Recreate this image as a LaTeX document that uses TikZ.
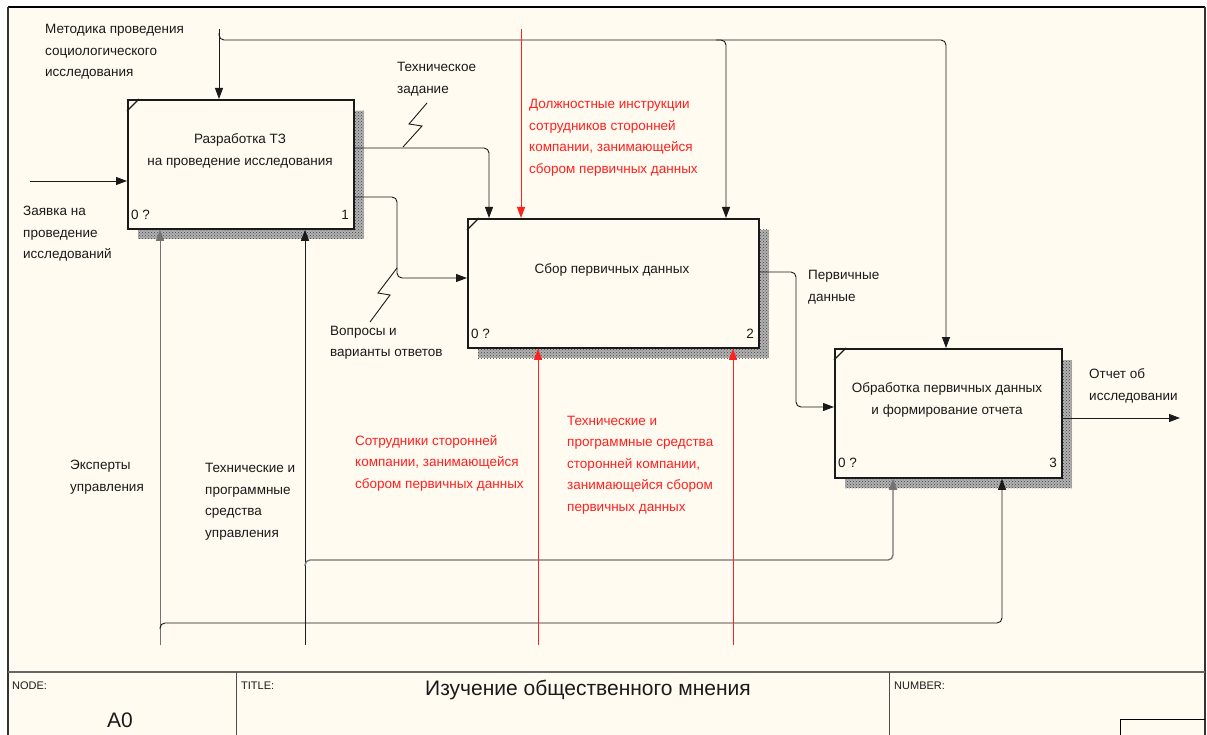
\documentclass[tikz,border=0pt]{standalone}
\usepackage{fontspec}
\setmainfont{Liberation Sans}
\usetikzlibrary{arrows.meta,patterns,calc}
\definecolor{bg}{HTML}{FFFBF0}
\definecolor{ired}{HTML}{FF2020}
\definecolor{ink}{HTML}{1A1A1A}
\begin{document}
\begin{tikzpicture}[x=1pt,y=-1pt,
  fbox/.style={draw=ink,line width=1.8pt,fill=bg,anchor=north west,inner sep=0pt},
  shadowfill/.style={fill=black!30,postaction={pattern=crosshatch dots,pattern color=black!75}},
  conn/.style={draw=ink,line width=0.9pt,rounded corners=5pt},
  arr/.style={conn,-{Triangle[length=11pt,width=8pt]}},
  rconn/.style={draw=ired,line width=0.9pt,-{Triangle[length=11pt,width=8pt]}},
  lbl/.style={font=\fontsize{13.5}{21.5}\selectfont,text=ink,inner sep=0pt,align=left,anchor=west},
  rlbl/.style={lbl,text=ired},
  clbl/.style={font=\fontsize{13.5}{21.5}\selectfont,text=ink,inner sep=0pt,align=center},
  num/.style={font=\fontsize{13.5}{16}\selectfont,text=ink,inner sep=0pt},
  small/.style={font=\fontsize{11}{13}\selectfont,text=ink,inner sep=0pt,anchor=west}
]
\useasboundingbox (0,0) rectangle (1207,735);
\fill[white] (0,0) rectangle (1207,735);
\fill[bg] (8,7) rectangle (1205,735);

% shadows
\path[shadowfill] (138,111) rectangle (364,239);
\path[shadowfill] (478,230) rectangle (769,358);
\path[shadowfill] (845,360) rectangle (1072,488);

% boxes
\node[fbox,minimum width=226pt,minimum height=129pt] (b1) at (127,99) {};
\node[fbox,minimum width=291pt,minimum height=129pt] (b2) at (467,218) {};
\node[fbox,minimum width=227pt,minimum height=129pt] (b3) at (834,348) {};
\draw[ink,line width=1.2pt] (b1.north west) ++(0,12) -- ++(12,-12);
\draw[ink,line width=1.2pt] (b2.north west) ++(0,12) -- ++(12,-12);
\draw[ink,line width=1.2pt] (b3.north west) ++(0,12) -- ++(12,-12);

% box texts
\node[clbl] (t1) at (240,151) {Разработка ТЗ\\на проведение исследования};
\node[clbl] (t2) at (612,270) {Сбор первичных данных};
\node[clbl] (t3) at (947,400) {Обработка первичных данных\\и формирование отчета};
\node[num,anchor=west] (n1a) at (131,215) {0 ?};
\node[num,anchor=east] (n1b) at (349,215) {1};
\node[num,anchor=west] (n2a) at (471,334) {0 ?};
\node[num,anchor=east] (n2b) at (754,334) {2};
\node[num,anchor=west] (n3a) at (838,463) {0 ?};
\node[num,anchor=east] (n3b) at (1057,463) {3};

% coordinates
\coordinate (inA) at (30,181);
\coordinate (ctop) at (219,29);
\coordinate (k1) at (219,40);
\coordinate (k2) at (726,40);
\coordinate (k3) at (946,40);
\coordinate (rtop) at (521,29);
\coordinate (d1) at (489,148);
\coordinate (e1) at (397,197);
\coordinate (e2) at (397,278);
\coordinate (f1) at (796,272);
\coordinate (f2) at (796,407);
\coordinate (gout) at (1180,418);
\coordinate (h0) at (160,645);
\coordinate (h1) at (160,623);
\coordinate (h2) at (1002,623);
\coordinate (i0) at (305,645);
\coordinate (i1) at (305,560);
\coordinate (i2) at (893,560);
\coordinate (r1) at (538,645);
\coordinate (r2) at (733,645);

% connectors
\draw[arr] (inA) -- (inA -| b1.west);
\draw[arr] (ctop) -- (ctop |- b1.north);
\draw[arr] ($(ctop)+(0,4)$) -- (k1) -- (k3) -- (k3 |- b3.north);
\draw[arr] ($(k2)+(-10,0)$) -- (k2) -- (k2 |- b2.north);
\draw[rconn] (rtop) -- (rtop |- b2.north);
\draw[arr] (b1.east |- d1) -- (d1) -- (d1 |- b2.north);
\draw[arr] (b1.east |- e1) -- (e1) -- (e2) -- (e2 -| b2.west);
\draw[arr] (b2.east |- f1) -- (f1) -- (f2) -- (f2 -| b3.west);
\draw[arr] (b3.east |- gout) -- (gout);
\draw[arr,draw=black!55] (h0) -- (h0 |- b1.south);
\draw[arr] ($(h1)+(0,6)$) -- (h1) -- (h2) -- (h2 |- b3.south);
\draw[arr] (i0) -- (i0 |- b1.south);
\draw[arr,draw=black!55,line width=1.3pt] ($(i1)+(0,6)$) -- (i1) -- (i2) -- (i2 |- b3.south);
\draw[rconn] (r1) -- (r1 |- b2.south);
\draw[rconn] (r2) -- (r2 |- b2.south);

% squiggles
\draw[ink,line width=0.9pt] (403,147) -- (422,126) -- (409,124) -- (427,103);
\draw[ink,line width=0.9pt] (397,268) -- (378,293) -- (390,295) -- (370,322);

% labels
\node[lbl] (l1) at (45,52) {Методика проведения\\социологического\\исследования};
\node[lbl] (l2) at (397,79) {Техническое\\задание};
\node[rlbl] (l3) at (529,138) {Должностные инструкции\\сотрудников сторонней\\компании, занимающейся\\сбором первичных данных};
\node[lbl] (l4) at (23,234) {Заявка на\\проведение\\исследований};
\node[lbl] (l5) at (808,287) {Первичные\\данные};
\node[lbl] (l6) at (330,343) {Вопросы и\\варианты ответов};
\node[lbl] (l7) at (1089,386) {Отчет об\\исследовании};
\node[lbl] (l8) at (70,477) {Эксперты\\управления};
\node[lbl] (l9) at (205,502) {Технические и\\программные\\средства\\управления};
\node[rlbl] (l10) at (355,463) {Сотрудники сторонней\\компании, занимающейся\\сбором первичных данных};
\node[rlbl] (l11) at (567,465) {Технические и\\программные средства\\сторонней компании,\\занимающейся сбором\\первичных данных};

% frame and title block
\draw[black,line width=1.8pt] (8,7) -- (1205,7);
\draw[black!80,line width=1.2pt] (8,7) -- (8,735);
\draw[black!80,line width=1.2pt] (1205,7) -- (1205,735);
\draw[black!60,line width=1.4pt] (8,672) -- (1205,672);
\draw[black!70,line width=0.8pt] (236,672) -- (236,735);
\draw[black!70,line width=0.8pt] (889,672) -- (889,735);
\draw[black,line width=0.8pt] (1120,735) -- (1120,719) -- (1205,719);
\node[small] (tn) at (12,686) {NODE:};
\node[small] (tt) at (241,686) {TITLE:};
\node[small] (tnum) at (894,686) {NUMBER:};
\node[font=\fontsize{21}{24}\selectfont,text=ink,inner sep=0pt] (ta0) at (120,720) {A0};
\node[font=\fontsize{21}{24}\selectfont,text=ink,inner sep=0pt] (ttitle) at (588,690) {Изучение общественного мнения};
\end{tikzpicture}
\end{document}
